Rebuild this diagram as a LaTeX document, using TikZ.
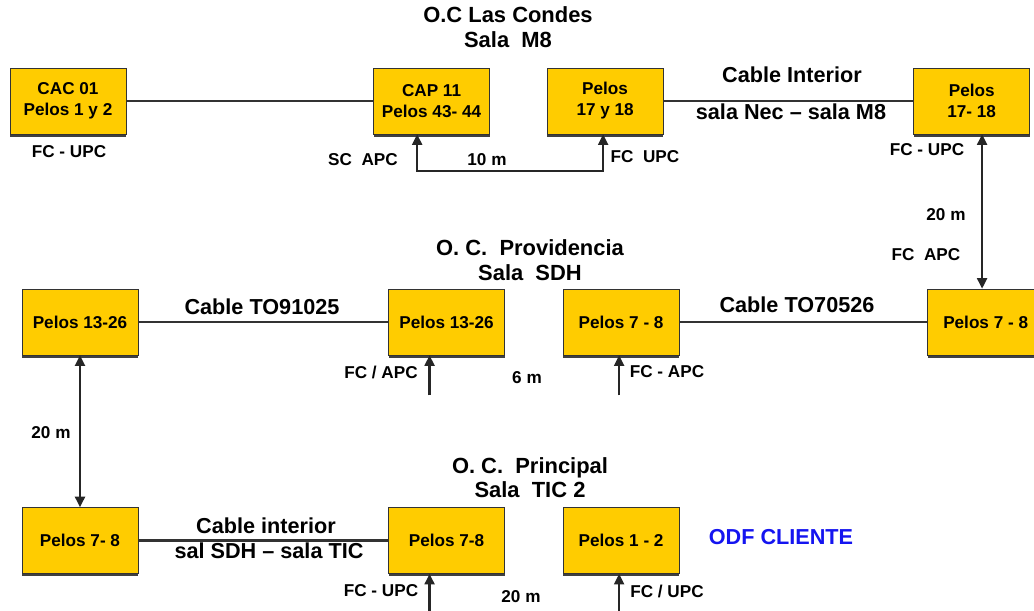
\documentclass[tikz,border=0pt]{standalone}
\usepackage{fontspec}
\setmainfont{Liberation Sans}
\usepackage{xcolor}
\usetikzlibrary{arrows.meta,positioning,shadows}

\definecolor{boxyellow}{HTML}{FFCC00}
\definecolor{odfblue}{HTML}{1414F0}

\begin{document}
\begin{tikzpicture}[
  box/.style={draw=black!80, fill=boxyellow, minimum width=2.9cm, minimum height=1.65cm,
    font=\bfseries\fontsize{12.2}{15}\selectfont, align=center, inner sep=1pt,
    drop shadow={shadow xshift=0pt, shadow yshift=-1.8pt, opacity=1, fill=black!75}},
  ttl/.style={font=\bfseries\fontsize{15.6}{17.6}\selectfont, align=center},
  cab/.style={font=\bfseries\fontsize{15.4}{17}\selectfont, align=center},
  lbl/.style={font=\bfseries\fontsize{12.2}{14}\selectfont},
  link/.style={line width=1.7pt, black!80},
  arr/.style={-{Triangle[length=7.5pt, width=7pt]}, line width=1.7pt, black!85},
  dbl/.style={{Triangle[length=7.5pt, width=7pt]}-{Triangle[length=7.5pt, width=7pt]}, line width=1.7pt, black!85},
  node distance=1.5cm and 1.5cm,
]
\useasboundingbox (0,0) rectangle (25.85,-15.275);

% --- O.C Las Condes, sala M8 ---
\node[box] at (1.7,-2.525) (cac)  {CAC 01\\Pelos 1 y 2};
\node[box, right=6.175cm of cac]  (cap)  {CAP 11\\Pelos 43- 44};
\node[box, right=1.425cm of cap]  (p17a) {Pelos\\17 y 18};
\node[box, right=6.25cm of p17a]  (p17b) {Pelos\\17- 18};

% --- O.C. Providencia, sala SDH ---
\node[box] at (2.0,-8.05) (p13a)  {Pelos 13-26};
\node[box, right=6.25cm of p13a]  (p13b) {Pelos 13-26};
\node[box, right=1.45cm of p13b]  (p7a)  {Pelos 7 - 8};
\node[box, right=6.2cm of p7a]    (p7b)  {Pelos 7 - 8};

% --- O.C. Principal, sala TIC 2 ---
\node[box, below=3.8cm of p13a]   (p7c)  {Pelos 7- 8};
\node[box, right=6.25cm of p7c]   (p7d)  {Pelos 7-8};
\node[box, right=1.45cm of p7d]   (p1)   {Pelos 1 - 2};

% --- Titles ---
\node[ttl] at (12.7,-0.675)  (tlc)  {O.C Las Condes\\Sala\ \ M8};
\node[ttl] at (13.25,-6.5)   (tprov){O. C.\ \ Providencia\\Sala\ \ SDH};
\node[ttl] at (13.25,-11.94) (tpri) {O. C.\ \ Principal\\Sala\ \ TIC 2};

% --- Cables ---
\draw[link] (cac)  -- (cap);
\draw[link] (p17a) -- (p17b);
\draw[link] (p13a) -- (p13b);
\draw[link] (p7a)  -- (p7b);
\draw[link] (p7c)  -- (p7d);
\draw[dbl] ([xshift=-0.36cm]cap.south) -- ++(0,-0.925) -| ([xshift=-0.05cm]p17a.south);
\draw[dbl] ([xshift=0.26cm]p17b.south) -- ([xshift=0.26cm]p17b.south |- p7b.north);
\draw[dbl] (p13a.south) -- (p7c.north);

% --- Incoming patch cords ---
\coordinate (in13) at ([xshift=-0.425cm, yshift=-1cm]p13b.south);
\coordinate (in7)  at ([xshift=-0.05cm, yshift=-1cm]p7a.south);
\coordinate (in7d) at ([xshift=-0.425cm]p7d.south |- 0,-15.275);
\coordinate (in1)  at ([xshift=-0.05cm]p1.south |- 0,-15.275);
\draw[arr] (in13) -- (in13 |- p13b.south);
\draw[arr] (in7)  -- (in7 |- p7a.south);
\draw[arr] (in7d) -- (in7d |- p7d.south);
\draw[arr] (in1)  -- (in1 |- p1.south);

% --- Labels ---
\node[lbl] at (1.725,-3.8)    (l1)  {FC - UPC};
\node[lbl] at (9.075,-4.0)    (l2)  {SC\ \ APC};
\node[lbl] at (12.175,-4.0)   (l3)  {10 m};
\node[lbl] at (16.125,-3.925) (l4)  {FC\ \ UPC};
\node[cab] at (19.8,-1.875)   (c1)  {Cable Interior};
\node[cab] at (19.775,-2.8)   (c2)  {sala Nec -- sala M8};
\node[lbl] at (23.175,-3.75)  (l5)  {FC - UPC};
\node[lbl] at (23.65,-5.375)  (l6)  {20 m};
\node[lbl] at (23.15,-6.375)  (l7)  {FC\ \ APC};
\node[cab] at (6.55,-7.675)   (c3)  {Cable TO91025};
\node[cab] at (19.925,-7.625) (c4)  {Cable TO70526};
\node[lbl] at (9.525,-9.3)    (l8)  {FC / APC};
\node[lbl] at (13.175,-9.45)  (l9)  {6 m};
\node[lbl] at (16.675,-9.3)   (l10) {FC - APC};
\node[lbl] at (1.275,-10.825) (l11) {20 m};
\node[cab] at (6.65,-13.15)   (c5)  {Cable interior};
\node[cab] at (6.725,-13.775) (c6)  {sal SDH -- sala TIC};
\node[lbl] at (9.525,-14.775) (l12) {FC - UPC};
\node[lbl] at (13.025,-14.925)(l13) {20 m};
\node[lbl] at (16.675,-14.775)(l14) {FC / UPC};
\node[cab, text=odfblue] at (19.525,-13.425) (odf) {ODF CLIENTE};
\end{tikzpicture}
\end{document}
